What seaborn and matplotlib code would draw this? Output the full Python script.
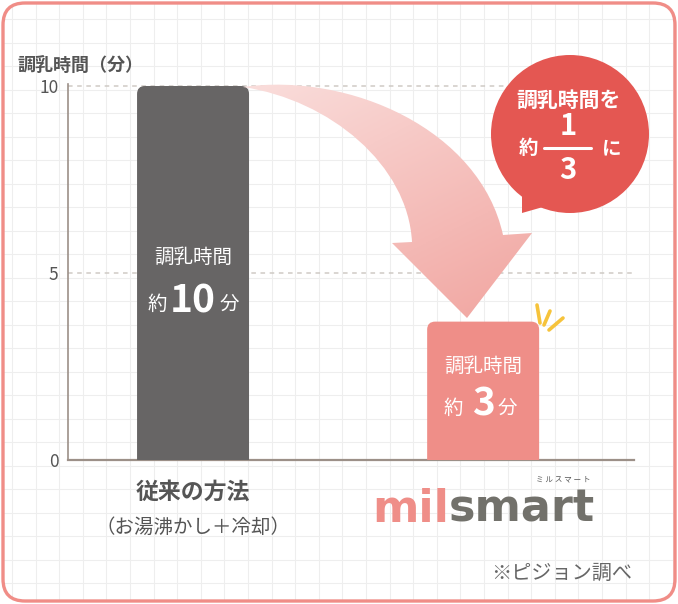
import matplotlib
matplotlib.use("Agg")
import matplotlib.pyplot as plt
import numpy as np
import seaborn as sns
from matplotlib.colors import LinearSegmentedColormap
from matplotlib.patches import Circle, FancyBboxPatch, PathPatch, Polygon
from matplotlib.path import Path
from matplotlib.transforms import blended_transform_factory

# data
methods = ["従来の方法", "milsmart"]
bar_minutes = [10, 3.7]          # drawn heights
label_minutes = ["10", "3"]      # printed values
y_ticks = [0, 5, 10]
y_title = "調乳時間（分）"
sub_label = "（お湯沸かし＋冷却）"
bubble_lines = ["調乳時間を", "約", "1", "3", "に"]
note = "※ピジョン調べ"

DARK = "#676565"
SALMON = "#EF8E88"
RED = "#E45752"
TXT = "#555555"
AXIS = "#9C9088"

sns.set_theme(style="white")
plt.rcParams["font.family"] = ["Noto Sans CJK JP", "DejaVu Sans"]

W, H = 678, 604
fig = plt.figure(figsize=(W / 100, H / 100), dpi=100)
fig.patch.set_facecolor("white")

# background grid (pixel space)
bg = fig.add_axes([0, 0, 1, 1], zorder=0)
bg.set_xlim(0, W)
bg.set_ylim(H, 0)
bg.axis("off")
frame = FancyBboxPatch((3, 3), W - 6, H - 6, boxstyle="round,pad=0,rounding_size=22",
                       facecolor="white", edgecolor="none")
bg.add_patch(frame)
for gx in np.arange(12, W, 23.6):
    bg.axvline(gx, color="#EEEEEE", lw=0.8, clip_path=frame)
for gy in np.arange(19, H, 23.5):
    bg.axhline(gy, color="#EEEEEE", lw=0.8, clip_path=frame)

# main chart axes: y=0 at px 460, 37.4 px per minute
ymax = 10.05
ax = fig.add_axes([68 / W, (H - 460) / H, (634 - 68) / W, ymax * 37.4 / H], zorder=1)
ax.patch.set_alpha(0)
sns.barplot(x=methods, y=bar_minutes, hue=methods, palette=[DARK, SALMON], saturation=1,
            legend=False, width=0.386, ax=ax, zorder=3)
ax.set_xlim(-0.431, 1.52)
ax.set_ylim(0, ymax)

# rounded tops
rx = 8 / 290
ry = 8 / 37.4
for p in list(ax.patches):
    x0, w, h = p.get_x(), p.get_width(), p.get_height()
    rb = FancyBboxPatch((x0, -1), w, h + 1, boxstyle=f"round,pad=0,rounding_size={rx}",
                        mutation_aspect=ry / rx, facecolor=p.get_facecolor(),
                        edgecolor="none", zorder=3)
    p.set_visible(False)
    ax.add_patch(rb)

for v in y_ticks[1:]:
    ax.axhline(v, color="#CFCAC5", lw=1.1, ls=(0, (3, 3)), zorder=1)

ax.set_yticks(y_ticks)
ax.set_yticklabels([str(v) for v in y_ticks], fontsize=12.5, color=TXT)
ax.tick_params(axis="y", length=0, pad=7)
ax.set_xticks([])
ax.set_xlabel("")
ax.set_ylabel("")
sns.despine(ax=ax, top=True, right=True)
ax.spines["left"].set_color(AXIS)
ax.spines["left"].set_linewidth(1.2)
ax.spines["bottom"].set_color(AXIS)
ax.spines["bottom"].set_linewidth(1.6)


def label(target, s, xy, dx=0, dy=0, **kw):
    kw.setdefault("ha", "center")
    kw.setdefault("va", "center")
    return target.annotate(s, xy, xytext=(dx * 0.72, -dy * 0.72), textcoords="offset points", **kw)


# in-bar labels
name_y = [5.43, 2.51]
value_y = [4.15, 1.39]
side_dx = [(-36, 36), (-30, 24)]
for i, val in enumerate(label_minutes):
    label(ax, "調乳時間", (i, name_y[i]), fontsize=14, color="white", zorder=5)
    label(ax, val, (i, value_y[i]), dy=-4, fontsize=28, fontweight="bold", color="white", zorder=5)
    label(ax, "約", (i, value_y[i]), dx=side_dx[i][0], fontsize=14, color="white", zorder=5)
    label(ax, "分", (i, value_y[i]), dx=side_dx[i][1], fontsize=14, color="white", zorder=5)

# overlay in pixel space
ov = fig.add_axes([0, 0, 1, 1], zorder=2)
ov.patch.set_alpha(0)
ov.set_xlim(0, W)
ov.set_ylim(H, 0)
ov.axis("off")

# category labels below the axis
bt = blended_transform_factory(ax.transData, ov.transData)
label(ov, methods[0], (0, 492), xycoords=bt, fontsize=16.5, fontweight="bold", color=TXT)
label(ov, sub_label, (0, 527), xycoords=bt, fontsize=14, color=TXT)
label(ov, "mil", (1, 509), dx=-34, xycoords=bt, ha="right", fontsize=32, fontweight="bold",
      color=SALMON, family="DejaVu Sans")
label(ov, "smart", (1, 509), dx=-34, xycoords=bt, ha="left", fontsize=32, fontweight="bold",
      color="#72716B", family="DejaVu Sans")
label(ov, "ミ ル ス マ ー ト", (1, 479), dx=80, xycoords=bt, fontsize=5.5, color=TXT)

ov.text(18, 65, y_title, ha="left", va="center", fontsize=13, fontweight="bold", color=TXT)
ov.text(632, 573, note, ha="right", va="center", fontsize=14.5, color="#666666")

# curved gradient arrow
verts = [(243, 87), (350, 72), (480, 130), (503, 235),
         (532, 233), (467, 318), (392, 243), (412, 242),
         (408, 165), (330, 100), (243, 87), (243, 87)]
codes = [Path.MOVETO, Path.CURVE4, Path.CURVE4, Path.CURVE4,
         Path.LINETO, Path.LINETO, Path.LINETO, Path.LINETO,
         Path.CURVE4, Path.CURVE4, Path.CURVE4, Path.CLOSEPOLY]
arrow = PathPatch(Path(verts, codes), facecolor="none", edgecolor="none")
ov.add_patch(arrow)
gx, gy = np.meshgrid(np.linspace(243, 532, 200), np.linspace(80, 318, 200))
grad = (gx - 243) * 0.5 + (gy - 80)
grad = grad / grad.max()
cmap = LinearSegmentedColormap.from_list("arr", ["#FADEDC", "#F1A5A0"])
img = ov.imshow(grad, extent=(243, 532, 318, 80), origin="upper", cmap=cmap,
                aspect="auto", interpolation="bilinear", zorder=3)
img.set_clip_path(arrow)
ov.set_xlim(0, W)
ov.set_ylim(H, 0)

# sparkle
for (x1, y1), (x2, y2) in [((537, 305), (540, 323)), ((550, 311), (544, 325)), ((563, 318), (549, 330))]:
    ov.plot([x1, x2], [y1, y2], color="#F6C33B", lw=2.6, solid_capstyle="round", zorder=4)

# speech bubble
ov.add_patch(Circle((570, 134), 79, facecolor=RED, edgecolor="none", zorder=4))
ov.add_patch(Polygon([(522, 188), (522, 213), (550, 205)], closed=True, facecolor=RED,
                     edgecolor="none", zorder=4))
ov.text(569, 100, bubble_lines[0], ha="center", va="center", fontsize=15, fontweight="bold",
        color="white", zorder=5)
ov.text(528, 148, bubble_lines[1], ha="center", va="center", fontsize=14, fontweight="bold",
        color="white", zorder=5)
ov.text(568, 126, bubble_lines[2], ha="center", va="center", fontsize=21, fontweight="bold",
        color="white", zorder=5)
ov.plot([544, 591], [148, 148], color="white", lw=2.2, solid_capstyle="round", zorder=5)
ov.text(568, 170, bubble_lines[3], ha="center", va="center", fontsize=21, fontweight="bold",
        color="white", zorder=5)
ov.text(612, 149, bubble_lines[4], ha="center", va="center", fontsize=14, fontweight="bold",
        color="white", zorder=5)

# outer rounded frame
ov.add_patch(FancyBboxPatch((3, 3), W - 6, H - 6, boxstyle="round,pad=0,rounding_size=22",
                            facecolor="none", edgecolor="#F08D87", lw=2.4, zorder=6))

fig.savefig("out.png", dpi=100)
